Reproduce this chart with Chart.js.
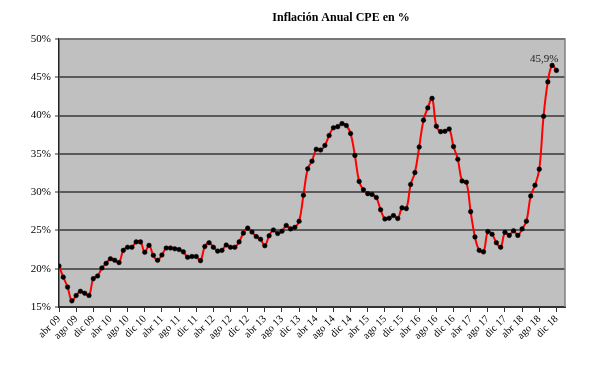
<!DOCTYPE html>
<html>
<head>
<meta charset="utf-8">
<script src="https://cdn.jsdelivr.net/npm/chart.js@4.4.1/dist/chart.umd.min.js"></script>
<style>
  html, body { margin: 0; padding: 0; background: #fff; }
</style>
</head>
<body>
<canvas id="cpeChart" width="603" height="370"></canvas>
<script>
// etiquetas del eje X (cada 4 meses, desde abr 09)
const tickLabels = [
    'abr 09', 'ago 09', 'dic 09', 'abr 10', 'ago 10', 'dic 10',
    'abr 11', 'ago 11', 'dic 11', 'abr 12', 'ago 12', 'dic 12',
    'abr 13', 'ago 13', 'dic 13', 'abr 14', 'ago 14', 'dic 14',
    'abr 15', 'ago 15', 'dic 15', 'abr 16', 'ago 16', 'dic 16',
    'abr 17', 'ago 17', 'dic 17', 'abr 18', 'ago 18', 'dic 18'
];

// inflación anual CPE (%), mensual abr 09 - dic 18
const inflacion = [
    20.35, 18.9, 17.6, 15.8, 16.5, 17.05, 16.8, 16.5, 18.7, 19.05,
    20.1, 20.7, 21.3, 21.1, 20.8, 22.4, 22.8, 22.8, 23.5, 23.5,
    22.15, 23.05, 21.75, 21.1, 21.8, 22.7, 22.7, 22.6, 22.5, 22.2,
    21.5, 21.6, 21.6, 21.05, 22.9, 23.4, 22.8, 22.3, 22.4, 23.1,
    22.8, 22.8, 23.5, 24.65, 25.3, 24.8, 24.2, 23.85, 23.0, 24.3,
    25.05, 24.6, 24.9, 25.65, 25.2, 25.4, 26.2, 29.6, 33.05, 34.05,
    35.6, 35.5, 36.1, 37.4, 38.4, 38.55, 38.95, 38.7, 37.65, 34.8,
    31.4, 30.3, 29.8, 29.7, 29.3, 27.7, 26.5, 26.6, 26.95, 26.55,
    27.95, 27.85, 31.0, 32.55, 35.9, 39.4, 41.0, 42.25, 38.6, 37.9,
    37.95, 38.25, 35.95, 34.3, 31.45, 31.3, 27.45, 24.15, 22.4, 22.2,
    24.85, 24.5, 23.4, 22.8, 24.75, 24.35, 24.95, 24.35, 25.2, 26.2,
    29.5, 30.9, 33.0, 39.9, 44.4, 46.55, 45.9
];

const yMin = 15;
const yMax = 50;
const yStep = 5;
const lastLabel = '45,9%';
const titulo = 'Inflación Anual CPE en %';

const points = inflacion.map((v, i) => ({ x: i, y: v }));
const serif = "'Liberation Serif', 'DejaVu Serif', serif";

// fondo gris y bordes del área de gráfico
const plotBg = {
    id: 'plotBg',
    beforeDraw(chart) {
        const { ctx, chartArea: a } = chart;
        ctx.save();
        ctx.fillStyle = '#c0c0c0';
        ctx.fillRect(a.left, a.top, a.width, a.height);
        ctx.restore();
    },
    afterDraw(chart) {
        const { ctx, chartArea: a } = chart;
        ctx.save();
        ctx.strokeStyle = '#808080';
        ctx.lineWidth = 1.5;
        ctx.beginPath();
        ctx.moveTo(a.left, a.top);
        ctx.lineTo(a.right, a.top);
        ctx.lineTo(a.right, a.bottom);
        ctx.stroke();
        // título
        ctx.fillStyle = '#000';
        ctx.font = 'bold 12px ' + serif;
        ctx.textAlign = 'center';
        ctx.textBaseline = 'middle';
        ctx.fillText(titulo, 341, 18);
        ctx.restore();
    }
};

// etiqueta del último valor
const lastValue = {
    id: 'lastValue',
    afterDatasetsDraw(chart) {
        const meta = chart.getDatasetMeta(0);
        const p = meta.data[meta.data.length - 1];
        const ctx = chart.ctx;
        ctx.save();
        ctx.fillStyle = '#222';
        ctx.font = '11px ' + serif;
        ctx.textAlign = 'right';
        ctx.textBaseline = 'bottom';
        ctx.fillText(lastLabel, p.x + 2, p.y - 6);
        ctx.restore();
    }
};

new Chart(document.getElementById('cpeChart').getContext('2d'), {
    type: 'line',
    data: {
        datasets: [{
            data: points,
            borderColor: '#ff0000',
            borderWidth: 2,
            tension: 0.4,
            pointRadius: 2.3,
            pointBackgroundColor: '#000',
            pointBorderColor: '#000',
            pointBorderWidth: 0.5
        }]
    },
    options: {
        responsive: false,
        animation: false,
        layout: { padding: { top: 39, right: 38, left: 0, bottom: 0 } },
        plugins: {
            legend: { display: false },
            tooltip: { enabled: false }
        },
        scales: {
            x: {
                type: 'linear',
                min: 0,
                max: 118,
                afterFit: s => { s.height = 63; },
                grid: { drawOnChartArea: false, tickLength: 5, tickColor: '#333', lineWidth: 1 },
                border: { color: '#333', width: 2 },
                ticks: {
                    stepSize: 4,
                    includeBounds: false,
                    autoSkip: false,
                    maxRotation: 45,
                    minRotation: 45,
                    padding: 1,
                    color: '#000',
                    font: { family: serif, size: 10.5 },
                    callback: v => tickLabels[v / 4] || ''
                }
            },
            y: {
                min: yMin,
                max: yMax,
                afterFit: s => { s.width = 59; },
                grid: { color: '#5a5a5a', lineWidth: 2, tickLength: 4, tickColor: '#333', tickWidth: 1 },
                border: { color: '#222', width: 1.5 },
                ticks: {
                    stepSize: yStep,
                    padding: 4,
                    color: '#000',
                    font: { family: serif, size: 11 },
                    callback: v => v + '%'
                }
            }
        }
    },
    plugins: [plotBg, lastValue]
});
</script>
</body>
</html>
